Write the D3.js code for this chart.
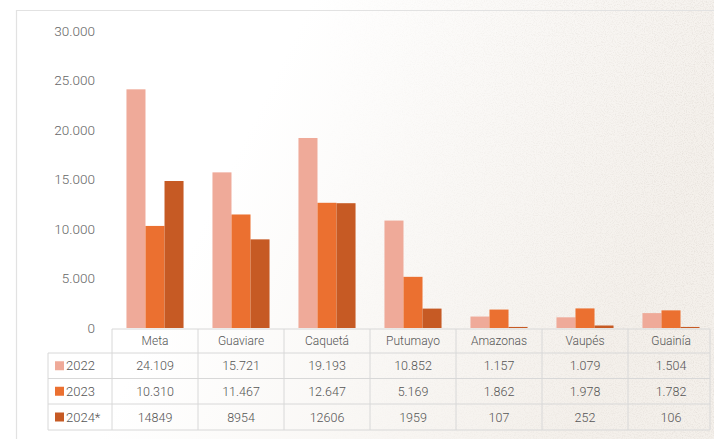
<!DOCTYPE html>
<html><head><meta charset="utf-8">
<script src="https://cdn.jsdelivr.net/npm/d3@7"></script>
<style>
html,body{margin:0;padding:0;background:#fff;}
svg{display:block;}
</style></head>
<body>
<script>
const categories = ["Meta","Guaviare","Caquetá","Putumayo","Amazonas","Vaupés","Guainía"];
const seriesNames = ["2022","2023","2024*"];
const values2022 = [24109,15721,19193,10852,1157,1079,1504];
const values2023 = [10310,11467,12647,5169,1862,1978,1782];
const values2024 = [14849,8954,12606,1959,107,252,106];
const labels2022 = ["24.109","15.721","19.193","10.852","1.157","1.079","1.504"];
const labels2023 = ["10.310","11.467","12.647","5.169","1.862","1.978","1.782"];
const labels2024 = ["14849","8954","12606","1959","107","252","106"];
const yTicks = [0,5000,10000,15000,20000,25000,30000];
const colors = ["#EFAA99","#EB7030","#C65A24"];

const W=714,H=439;
const svg=d3.select("body").append("svg").attr("width",W).attr("height",H);
const defs=svg.append("defs");
const grad=defs.append("linearGradient").attr("id","bg").attr("x1","0").attr("x2","1").attr("y1","0").attr("y2","0.3");
grad.append("stop").attr("offset","0.4").attr("stop-color","#ffffff");
grad.append("stop").attr("offset","1").attr("stop-color","#f4f0eb");
const f=defs.append("filter").attr("id","grain").attr("x",0).attr("y",0).attr("width","100%").attr("height","100%");
f.append("feTurbulence").attr("type","fractalNoise").attr("baseFrequency","0.9").attr("numOctaves",2).attr("seed",3).attr("result","n");
f.append("feColorMatrix").attr("in","n").attr("type","matrix")
 .attr("values","0 0 0 0 0.6  0 0 0 0 0.55  0 0 0 0 0.5  0 0 0 -2.2 1.25");
const mask=defs.append("linearGradient").attr("id","gm").attr("x1","0").attr("x2","1");
mask.append("stop").attr("offset","0.45").attr("stop-color","#000");
mask.append("stop").attr("offset","1").attr("stop-color","#fff");
defs.append("mask").attr("id","mk").append("rect").attr("width",W).attr("height",H).attr("fill","url(#gm)");

svg.append("rect").attr("width",W).attr("height",H).attr("fill","url(#bg)");
svg.append("rect").attr("width",W).attr("height",H).attr("filter","url(#grain)").attr("mask","url(#mk)").attr("opacity",0.35);

// frame
svg.append("path").attr("d","M16.5,439 V10.5 H714").attr("fill","none").attr("stroke","#e2e2e2").attr("stroke-width",1.2);

const x0=d3.scaleBand().domain(categories).range([112,714]).paddingInner(0).paddingOuter(0);
const x1=d3.scaleBand().domain(seriesNames).range([0,x0.bandwidth()]).paddingInner(0).paddingOuter(0.76);
const y=d3.scaleLinear().domain([0,30000]).range([328,31]);

const tf="Roboto, 'Liberation Sans', sans-serif";
const fmt=d=>d===0?"0":d3.format(",")(d).replace(/,/g,".");
const ya=svg.append("g").attr("transform","translate(95,0)")
  .call(d3.axisLeft(y).tickValues(yTicks).tickSize(0).tickPadding(0).tickFormat(fmt));
ya.select(".domain").remove();
ya.selectAll("text").attr("font-family",tf).attr("font-weight",300).attr("font-size",13.5).attr("fill","#666");

const seriesVals=[values2022,values2023,values2024];
const seriesLabels=[labels2022,labels2023,labels2024];
seriesNames.forEach((s,si)=>{
  svg.append("g").selectAll("rect").data(categories).join("rect")
    .attr("x",c=>x0(c)+x1(s))
    .attr("width",x1.bandwidth())
    .attr("y",(c,i)=>y(seriesVals[si][i]))
    .attr("height",(c,i)=>y(0)-y(seriesVals[si][i]))
    .attr("fill",colors[si]);
});

// data table
const tb=svg.append("g");
const lineC="#d8d8d8";
const rowY=[329,353,378.5,404,430];
const legL=48, tL=112, tR=710;
tb.append("line").attr("x1",tL).attr("x2",tR).attr("y1",rowY[0]).attr("y2",rowY[0]).attr("stroke",lineC);
for(let r=1;r<rowY.length;r++){
  tb.append("line").attr("x1",legL).attr("x2",tR).attr("y1",rowY[r]).attr("y2",rowY[r]).attr("stroke",lineC);
}
tb.append("line").attr("x1",legL).attr("x2",legL).attr("y1",rowY[1]).attr("y2",rowY[4]).attr("stroke",lineC);
categories.forEach((c,i)=>{
  const xx=x0(c);
  tb.append("line").attr("x1",xx).attr("x2",xx).attr("y1",rowY[0]).attr("y2",rowY[4]).attr("stroke",lineC);
});
tb.append("line").attr("x1",tR).attr("x2",tR).attr("y1",rowY[0]).attr("y2",rowY[4]).attr("stroke",lineC);

tb.selectAll("text.cat").data(categories).join("text").attr("class","cat")
  .attr("x",c=>x0(c)+x0.bandwidth()/2).attr("y",(rowY[0]+rowY[1])/2+4)
  .attr("text-anchor","middle").attr("font-family",tf).attr("font-weight",300).attr("font-size",12).attr("fill","#555").text(c=>c);
seriesNames.forEach((s,si)=>{
  const cy=(rowY[si+1]+rowY[si+2])/2;
  tb.append("rect").attr("x",55).attr("y",cy-4.5).attr("width",9).attr("height",9).attr("fill",colors[si]);
  tb.append("text").attr("x",66).attr("y",cy+4.5).attr("font-family",tf).attr("font-weight",300).attr("font-size",13).attr("fill","#555").text(s);
  tb.selectAll(null).data(categories).join("text")
    .attr("x",c=>x0(c)+x0.bandwidth()/2).attr("y",cy+4.5)
    .attr("text-anchor","middle").attr("font-family",tf).attr("font-weight",300).attr("font-size",12.5).attr("fill","#555")
    .text((c,i)=>seriesLabels[si][i]);
});
</script>
</body></html>
